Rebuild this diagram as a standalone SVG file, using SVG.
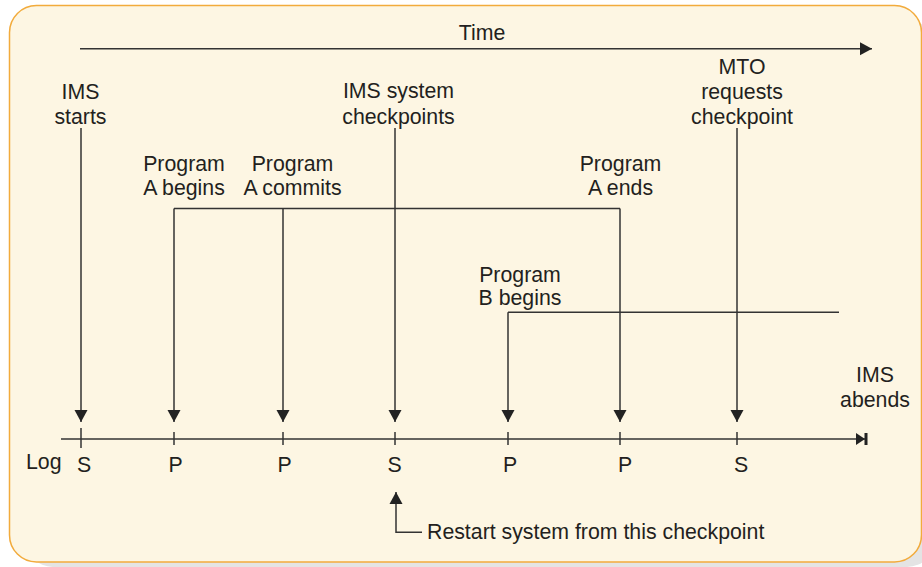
<svg xmlns="http://www.w3.org/2000/svg" width="922" height="567" viewBox="0 0 922 567">
  <style>
    text { font-family: "Liberation Sans", Arial, sans-serif; font-size: 21.3px; fill: #231f20; }
    .m { text-anchor: middle; }
    .ln { stroke: #333; stroke-width: 1.5; fill: none; }
    .tk { stroke: #333; stroke-width: 1.5; }
  </style>
  <defs>
    <marker id="arr" markerUnits="userSpaceOnUse" markerWidth="13" markerHeight="14" refX="12" refY="7" orient="auto">
      <path d="M0,0.5 L12,7 L0,13.5 z" fill="#222"/>
    </marker>
    <marker id="endbar" markerUnits="userSpaceOnUse" markerWidth="14" markerHeight="14" refX="9" refY="7" orient="auto">
      <path d="M0,1 L9,7 L0,13 z" fill="#222"/>
      <rect x="8.5" y="1" width="3" height="12" fill="#222"/>
    </marker>
  </defs>

  <!-- background -->
  <rect x="25" y="20" width="910" height="547" rx="28" fill="#e4e4e4"/>
  <rect x="9.5" y="5.5" width="912" height="556.5" rx="27" fill="#fdf6e3" stroke="#f2ab3c" stroke-width="1.5"/>

  <g id="connectors">
    <line class="ln" x1="80" y1="48.8" x2="872" y2="48.8" marker-end="url(#arr)"/>
    <line class="ln" x1="61" y1="439" x2="865" y2="439" marker-end="url(#endbar)"/>
    <line class="tk" x1="81" y1="428" x2="81" y2="448"/>
    <line class="tk" x1="174" y1="432" x2="174" y2="445"/>
    <line class="tk" x1="283" y1="432" x2="283" y2="445"/>
    <line class="tk" x1="395" y1="432" x2="395" y2="445"/>
    <line class="tk" x1="508" y1="432" x2="508" y2="445"/>
    <line class="tk" x1="620" y1="432" x2="620" y2="445"/>
    <line class="tk" x1="737" y1="432" x2="737" y2="445"/>
    <line class="ln" x1="81" y1="128" x2="81" y2="422" marker-end="url(#arr)"/>
    <line class="ln" x1="395" y1="128" x2="395" y2="422" marker-end="url(#arr)"/>
    <line class="ln" x1="737" y1="128" x2="737" y2="422" marker-end="url(#arr)"/>
    <line class="ln" x1="174" y1="208.5" x2="620" y2="208.5"/>
    <line class="ln" x1="174" y1="208.5" x2="174" y2="422" marker-end="url(#arr)"/>
    <line class="ln" x1="283" y1="208.5" x2="283" y2="422" marker-end="url(#arr)"/>
    <line class="ln" x1="620" y1="208.5" x2="620" y2="422" marker-end="url(#arr)"/>
    <line class="ln" x1="508" y1="312.3" x2="839" y2="312.3"/>
    <line class="ln" x1="508" y1="312.3" x2="508" y2="422" marker-end="url(#arr)"/>
    <path class="ln" d="M422,532.3 H396 V492" marker-end="url(#arr)"/>
  </g>

  <g id="time"><text class="m" x="482" y="40">Time</text></g>
  <g id="ims-starts">
    <text class="m" x="80.5" y="99">IMS</text>
    <text class="m" x="80.5" y="124">starts</text>
  </g>
  <g id="ims-system-checkpoints">
    <text class="m" x="398.5" y="98">IMS system</text>
    <text class="m" x="398.5" y="123.5">checkpoints</text>
  </g>
  <g id="mto">
    <text class="m" x="742" y="74">MTO</text>
    <text class="m" x="742" y="99">requests</text>
    <text class="m" x="742" y="124">checkpoint</text>
  </g>
  <g id="program-a-begins">
    <text class="m" x="184" y="170.5">Program</text>
    <text class="m" x="184" y="194.5">A begins</text>
  </g>
  <g id="program-a-commits">
    <text class="m" x="292.5" y="170.5">Program</text>
    <text class="m" x="292.5" y="194.5">A commits</text>
  </g>
  <g id="program-a-ends">
    <text class="m" x="620.5" y="170.5">Program</text>
    <text class="m" x="620.5" y="194.5">A ends</text>
  </g>
  <g id="program-b-begins">
    <text class="m" x="520" y="281.5">Program</text>
    <text class="m" x="520" y="305">B begins</text>
  </g>
  <g id="ims-abends">
    <text class="m" x="875" y="381.5">IMS</text>
    <text class="m" x="875" y="406.5">abends</text>
  </g>
  <g id="log">
    <text x="26" y="469">Log</text>
    <text class="m" x="84" y="472">S</text>
    <text class="m" x="175.5" y="472">P</text>
    <text class="m" x="284.5" y="472">P</text>
    <text class="m" x="394.5" y="472">S</text>
    <text class="m" x="510" y="472">P</text>
    <text class="m" x="625" y="472">P</text>
    <text class="m" x="741" y="472">S</text>
  </g>
  <g id="restart">
    <text x="427" y="539.3">Restart system from this checkpoint</text>
  </g>
</svg>
